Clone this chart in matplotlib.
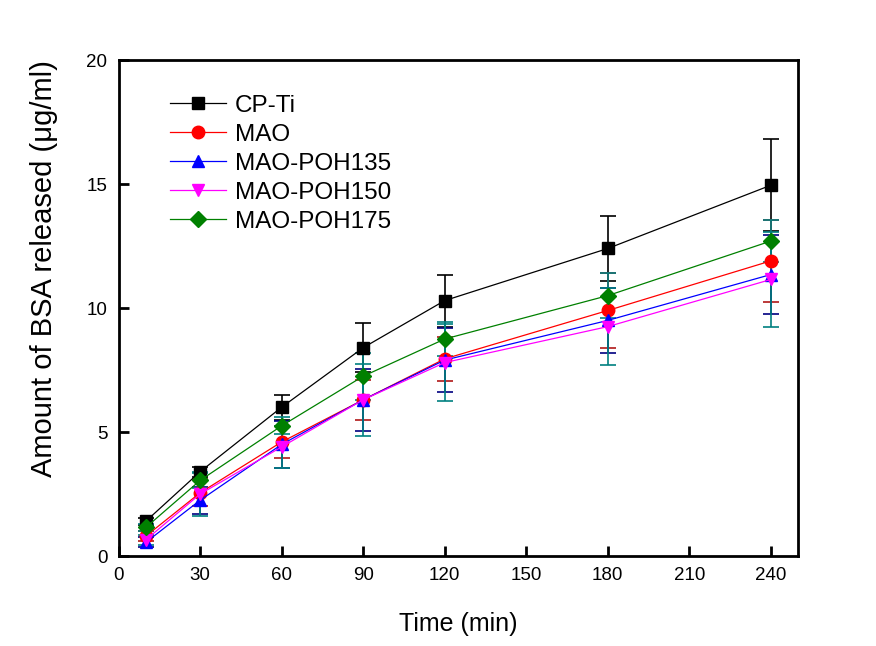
import matplotlib
matplotlib.use("Agg")
import matplotlib.pyplot as plt

plt.rcParams['font.family'] = ['Liberation Sans', 'DejaVu Sans']

time_min = [10, 30, 60, 90, 120, 180, 240]
labels = ["CP-Ti", "MAO", "MAO-POH135", "MAO-POH150", "MAO-POH175"]
cp_ti = [1.4, 3.4, 6.0, 8.4, 10.3, 12.4, 14.95]
cp_ti_err = [0.15, 0.2, 0.5, 1.0, 1.05, 1.3, 1.85]
mao = [0.8, 2.55, 4.6, 6.3, 7.95, 9.9, 11.9]
mao_err = [0.2, 0.55, 0.65, 0.8, 0.9, 1.5, 1.65]
poh135 = [0.55, 2.25, 4.5, 6.3, 7.9, 9.5, 11.35]
poh135_err = [0.2, 0.55, 0.95, 1.26, 1.3, 1.3, 1.6]
poh150 = [0.65, 2.5, 4.4, 6.3, 7.8, 9.25, 11.15]
poh150_err = [0.2, 0.9, 0.85, 1.45, 1.55, 1.55, 1.9]
poh175 = [1.15, 3.05, 5.25, 7.25, 8.75, 10.5, 12.7]
poh175_err = [0.15, 0.3, 0.35, 0.95, 0.7, 0.9, 0.85]

series = [cp_ti, mao, poh135, poh150, poh175]
errs = [cp_ti_err, mao_err, poh135_err, poh150_err, poh175_err]
colors = ["black", "#FF0000", "#0000FF", "#FF00FF", "#008000"]
ecolors = ["black", "#B01818", "#000080", "#008080", "#008080"]
markers = ["s", "o", "^", "v", "D"]
msizes = [8.5, 9, 9, 9, 8.5]

fig = plt.figure(figsize=(8.76, 6.46), dpi=100)
ax = fig.add_axes([0.1354, 0.1393, 0.7756, 0.7678])

handles = []
for y, e, c, ec, m, ms, lab in zip(series, errs, colors, ecolors, markers, msizes, labels):
    ax.errorbar(time_min, y, yerr=e, fmt='none', ecolor=ec, elinewidth=1.2,
                capsize=6, capthick=1.2, zorder=2)
for y, e, c, ec, m, ms, lab in zip(series, errs, colors, ecolors, markers, msizes, labels):
    h, = ax.plot(time_min, y, color=c, marker=m, markersize=ms, linewidth=0.9,
                 markeredgecolor=c, label=lab, zorder=3)
    handles.append(h)

ax.set_xlim(0, 250)
ax.set_ylim(0, 20)
ax.set_xticks([0, 30, 60, 90, 120, 150, 180, 210, 240])
ax.set_yticks([0, 5, 10, 15, 20])
ax.tick_params(direction='in', length=7, width=2, labelsize=13.5, pad=8)
for s in ax.spines.values():
    s.set_linewidth(2)

ax.set_xlabel("Time (min)", fontsize=18, labelpad=20)
ax.set_ylabel("Amount of BSA released (\u03bcg/ml)", fontsize=21)
ax.yaxis.set_label_coords(-0.089, 0.58)

leg = ax.legend(handles=handles, loc='upper left', bbox_to_anchor=(0.062, 0.95),
                frameon=False, fontsize=17.5, handlelength=2.3, handletextpad=0.35,
                labelspacing=0.29, borderaxespad=0)

fig.savefig("out.png", dpi=100)
